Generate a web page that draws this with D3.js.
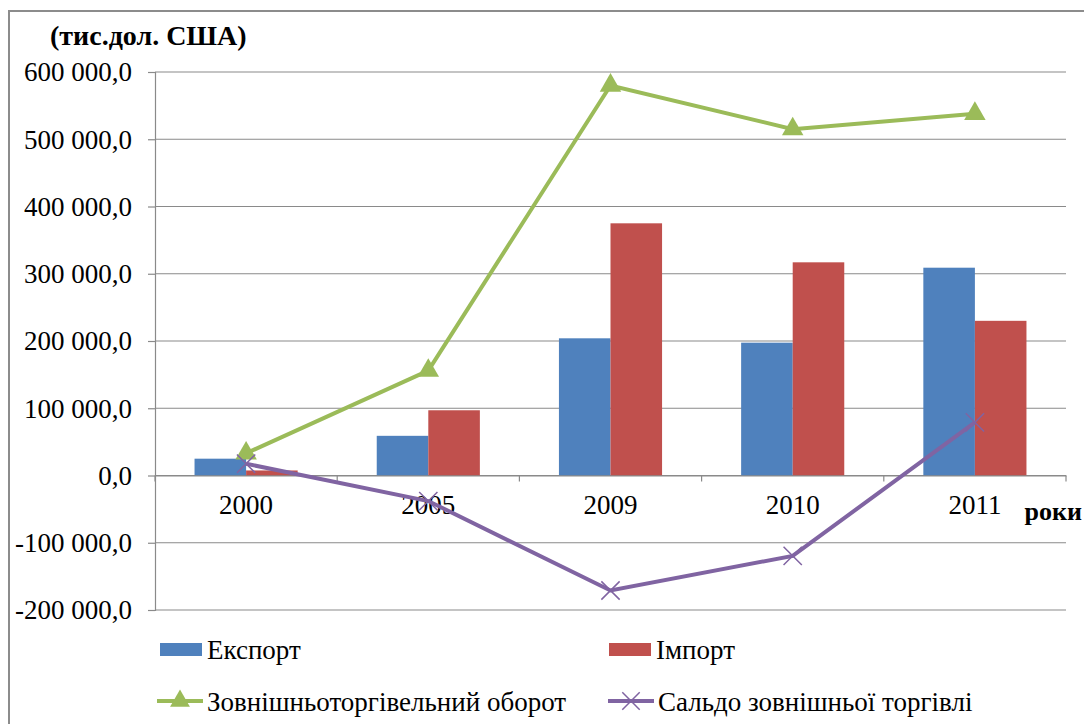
<!DOCTYPE html>
<html>
<head>
<meta charset="utf-8">
<script src="https://cdn.jsdelivr.net/npm/d3@7"></script>
<style>
  body { margin: 0; background: #fff; }
</style>
</head>
<body>
<svg width="1084" height="724"></svg>
<script>
// data (тис. дол. США)
const years = ["2000", "2005", "2009", "2010", "2011"];
const exportVals = [25000, 59000, 204000, 197500, 309000];
const importVals = [7500, 97000, 375000, 317000, 230000];
const turnoverVals = [33000, 156000, 580000, 515000, 538000];
const balanceVals = [17500, -38000, -171000, -119500, 79000];
const yTicks = [-200000, -100000, 0, 100000, 200000, 300000, 400000, 500000, 600000];

const colors = { exp: "#4F81BD", imp: "#C0504D", turn: "#9BBB59", bal: "#8064A2" };
const serif = "'Liberation Serif', 'Times New Roman', 'DejaVu Serif', serif";

const svg = d3.select("svg");

// outer frame
svg.append("rect")
    .attr("x", 9).attr("y", 11)
    .attr("width", 1100).attr("height", 740)
    .attr("fill", "none").attr("stroke", "#8c8c8c").attr("stroke-width", 2);

const plotL = 155, plotR = 1066, plotT = 72, plotB = 610;

const xScale = d3.scaleBand().domain(years).range([plotL, plotR]);
const xInner = d3.scaleBand().domain(["exp", "imp"])
    .range([0, xScale.bandwidth() * 0.566])
    .padding(0);
const yScale = d3.scaleLinear().domain([-200000, 600000]).range([plotB, plotT]);

const fmt = v => d3.format(",.1f")(v).replace(/,/g, " ").replace(".", ",").replace("−", "-");

// gridlines
svg.append("g")
    .selectAll("line")
    .data(yTicks)
    .join("line")
    .attr("x1", plotL).attr("x2", plotR)
    .attr("y1", d => yScale(d)).attr("y2", d => yScale(d))
    .attr("stroke", "#8a8a8a").attr("stroke-width", 1.2);

// y axis
const yAxis = svg.append("g")
    .attr("transform", `translate(${plotL},0)`)
    .call(d3.axisLeft(yScale).tickValues(yTicks).tickSize(7).tickPadding(16).tickFormat(fmt));
yAxis.selectAll("text").style("font-size", "27px").attr("dy", "0.33em");
yAxis.selectAll("line, path").attr("stroke", "#8a8a8a").attr("stroke-width", 1.2);

// bars
const groupOffset = (xScale.bandwidth() - xInner.range()[1]) / 2;
const bars = svg.append("g");
years.forEach((yr, i) => {
    [["exp", exportVals[i]], ["imp", importVals[i]]].forEach(([k, v]) => {
        bars.append("rect")
            .attr("x", xScale(yr) + groupOffset + xInner(k))
            .attr("width", xInner.bandwidth())
            .attr("y", yScale(Math.max(0, v)))
            .attr("height", Math.abs(yScale(v) - yScale(0)))
            .attr("fill", colors[k]);
    });
});

// x axis at zero
const xAxis = svg.append("g")
    .attr("transform", `translate(0,${yScale(0)})`)
    .call(d3.axisBottom(xScale).tickSize(0).tickPadding(19));
xAxis.select("path").attr("stroke", "#8a8a8a").attr("stroke-width", 1.2);
xAxis.selectAll("text").style("font-size", "27px");
// category boundary ticks
svg.append("g")
    .selectAll("line")
    .data(d3.range(years.length + 1))
    .join("line")
    .attr("x1", i => plotL + i * xScale.step())
    .attr("x2", i => plotL + i * xScale.step())
    .attr("y1", yScale(0)).attr("y2", yScale(0) + 6)
    .attr("stroke", "#8a8a8a").attr("stroke-width", 1.2);

const cx = yr => xScale(yr) + xScale.bandwidth() / 2;

// turnover line
const line = d3.line().x(d => cx(d[0])).y(d => yScale(d[1]));
svg.append("path")
    .datum(years.map((y, i) => [y, turnoverVals[i]]))
    .attr("d", line)
    .attr("fill", "none").attr("stroke", colors.turn).attr("stroke-width", 4);
svg.append("g")
    .selectAll("path")
    .data(years.map((y, i) => [y, turnoverVals[i]]))
    .join("path")
    .attr("d", d3.symbol().type(d3.symbolTriangle).size(200))
    .attr("transform", d => `translate(${cx(d[0])},${yScale(d[1])})`)
    .attr("fill", colors.turn);

// balance line
svg.append("path")
    .datum(years.map((y, i) => [y, balanceVals[i]]))
    .attr("d", line)
    .attr("fill", "none").attr("stroke", colors.bal).attr("stroke-width", 4);
svg.append("g")
    .selectAll("path")
    .data(years.map((y, i) => [y, balanceVals[i]]))
    .join("path")
    .attr("d", d3.symbol().type(d3.symbolX).size(220))
    .attr("transform", d => `translate(${cx(d[0])},${yScale(d[1])})`)
    .attr("fill", "none").attr("stroke", colors.bal).attr("stroke-width", 1.5);

// titles
svg.append("text").attr("x", 50).attr("y", 45)
    .style("font-size", "28px").style("font-weight", "bold")
    .text("(тис.дол. США)");
svg.append("text").attr("x", 1082).attr("y", 520)
    .attr("text-anchor", "end")
    .style("font-size", "26px").style("font-weight", "bold")
    .text("роки");

// legend
const leg = svg.append("g").style("font-size", "27px");
[[160, 650, "exp", "Експорт"], [609, 650, "imp", "Імпорт"]].forEach(([x, y, k, t]) => {
    leg.append("rect").attr("x", x).attr("y", y - 7).attr("width", 42).attr("height", 13).attr("fill", colors[k]);
    leg.append("text").attr("x", x + 47).attr("y", y + 9).text(t);
});
[[157, 701, "turn", "Зовнішньоторгівельний оборот", d3.symbolTriangle],
 [608, 701, "bal", "Сальдо зовнішньої торгівлі", d3.symbolX]].forEach(([x, y, k, t, sym]) => {
    leg.append("line").attr("x1", x).attr("x2", x + 46).attr("y1", y).attr("y2", y)
        .attr("stroke", colors[k]).attr("stroke-width", 4);
    const m = leg.append("path")
        .attr("d", d3.symbol().type(sym).size(k === "turn" ? 170 : 200))
        .attr("transform", `translate(${x + 23},${y})`);
    if (k === "turn") m.attr("fill", colors[k]);
    else m.attr("fill", "none").attr("stroke", colors[k]).attr("stroke-width", 1.5);
    leg.append("text").attr("x", x + 50).attr("y", y + 10).text(t);
});

// serif font on every label
svg.selectAll("text").style("font-family", serif).attr("fill", "#000");
</script>
</body>
</html>
